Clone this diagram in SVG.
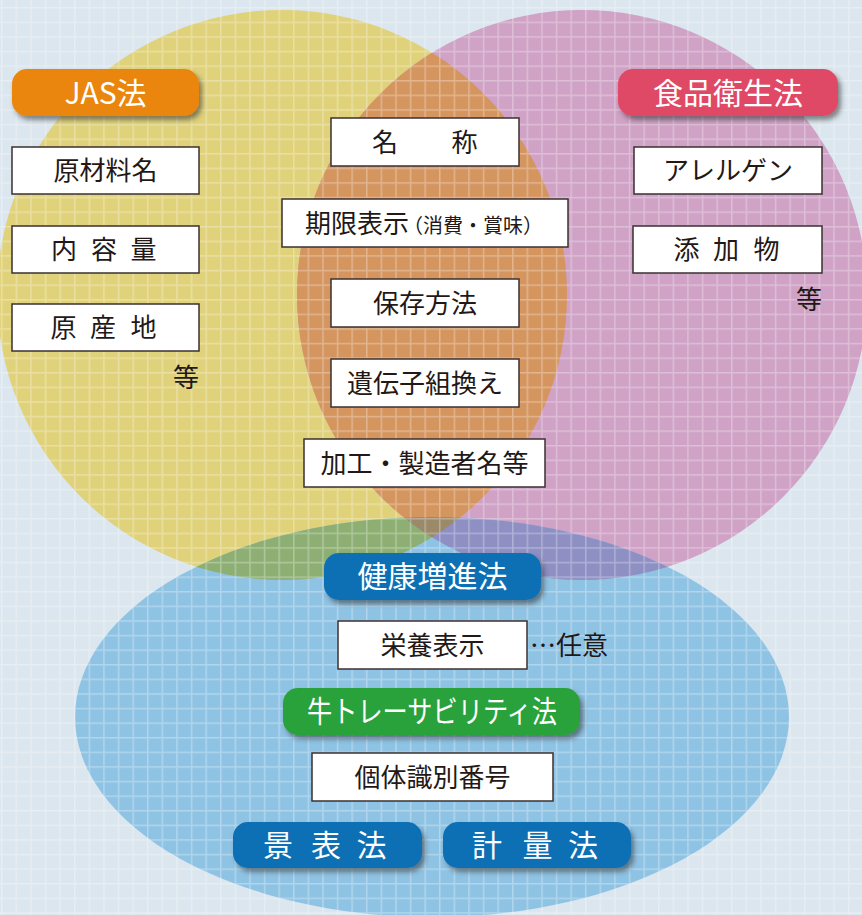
<svg xmlns="http://www.w3.org/2000/svg" width="862" height="915" viewBox="0 0 862 915">
<style>
.bx{fill:#fff;stroke:#3b3030;stroke-width:1.5}
.t{font-family:"Noto Sans CJK JP","Noto Sans",sans-serif;font-size:26px;fill:#231815;text-anchor:middle}
.bt{font-family:"Noto Sans CJK JP","Noto Sans",sans-serif;font-size:30px;fill:#fff;text-anchor:middle}
</style>
<defs>
<pattern id="grid" x="1" y="7" width="14.6" height="14.6" patternUnits="userSpaceOnUse">
<rect x="0" y="0" width="1.5" height="14.6" fill="#fff"/>
<rect x="0" y="0" width="14.6" height="1.5" fill="#fff"/>
</pattern>
<clipPath id="cy"><circle cx="282" cy="295" r="285"/></clipPath>
<clipPath id="cp"><circle cx="582" cy="295" r="285"/></clipPath>
<filter id="sh" x="-10%" y="-20%" width="130%" height="160%">
<feDropShadow dx="3" dy="4" stdDeviation="2.5" flood-color="#333" flood-opacity="0.55"/>
</filter>
</defs>
<g id="background">
<rect width="862" height="915" fill="#dbe6ee"/>
<circle cx="282" cy="295" r="285" fill="#e0d27b"/>
<circle cx="582" cy="295" r="285" fill="#cfa2c6"/>
<circle cx="582" cy="295" r="285" fill="#d4955f" clip-path="url(#cy)"/>
<ellipse cx="432" cy="717" rx="357" ry="200" fill="#8fc3e4"/>
<ellipse cx="432" cy="717" rx="357" ry="200" fill="#8daf73" clip-path="url(#cy)"/>
<ellipse cx="432" cy="717" rx="357" ry="200" fill="#8e8fc3" clip-path="url(#cp)"/>
<g clip-path="url(#cp)"><ellipse cx="432" cy="717" rx="357" ry="200" fill="#9b8a6a" clip-path="url(#cy)"/></g>
<rect width="862" height="915" fill="url(#grid)" opacity="0.3"/>
</g>
<g id="connectors"></g>
<g id="jas">
<rect x="12" y="69" width="187" height="47" rx="15" fill="#ea8510" filter="url(#sh)"/>
<text class="bt" x="105.5" y="103.5">JAS法</text>
</g>
<g id="shokuhin">
<rect x="618" y="69" width="220" height="47" rx="15" fill="#e04a65" filter="url(#sh)"/>
<text class="bt" x="728" y="103.5">食品衛生法</text>
</g>
<g id="genzairyo">
<rect class="bx" x="12" y="147" width="187" height="47"/>
<text class="t" x="105.5" y="180">原材料名</text>
</g>
<g id="naiyoryo">
<rect class="bx" x="12" y="226" width="187" height="47"/>
<text class="t" x="64 104 143.5" y="259">内容量</text>
</g>
<g id="gensanchi">
<rect class="bx" x="12" y="304" width="187" height="47"/>
<text class="t" x="63.5 103 143.5" y="337">原産地</text>
</g>
<g id="etc-left"><text class="t" x="186" y="387">等</text></g>
<g id="allergen">
<rect class="bx" x="634" y="147" width="188" height="47"/>
<text class="t" x="728" y="180">アレルゲン</text>
</g>
<g id="tenkabutsu">
<rect class="bx" x="633" y="226" width="189" height="47"/>
<text class="t" x="686.5 726 766.5" y="259">添加物</text>
</g>
<g id="etc-right"><text class="t" x="809" y="309">等</text></g>
<g id="meisho">
<rect class="bx" x="331" y="118" width="188" height="48"/>
<text class="t" x="385 464.5" y="151.5">名称</text>
</g>
<g id="kigen">
<rect class="bx" x="282" y="199" width="286" height="48"/>
<text class="t" x="305" y="232.5" style="text-anchor:start">期限表示<tspan font-size="20" dx="-6">（消費・賞味）</tspan></text>
</g>
<g id="hozon">
<rect class="bx" x="331" y="279" width="188" height="48"/>
<text class="t" x="425" y="312.5">保存方法</text>
</g>
<g id="idenshi">
<rect class="bx" x="331" y="359" width="188" height="48"/>
<text class="t" x="425" y="392.5">遺伝子組換え</text>
</g>
<g id="kakou">
<rect class="bx" x="304" y="439" width="241" height="48"/>
<text class="t" x="424.5" y="472.5">加工・製造者名等</text>
</g>
<g id="kenko">
<rect x="324" y="553" width="217" height="47" rx="15" fill="#0a6fb4" filter="url(#sh)"/>
<text class="bt" x="432.5" y="587">健康増進法</text>
</g>
<g id="eiyo">
<rect class="bx" x="338" y="621" width="189" height="48"/>
<text class="t" x="432.5" y="654.5">栄養表示</text>
</g>
<g id="nini"><text class="t" x="530" y="655" style="text-anchor:start">…任意</text></g>
<g id="ushi">
<rect x="283" y="688" width="297" height="47" rx="15" fill="#2aa23a" filter="url(#sh)"/>
<text class="bt" x="432" y="722" font-size="28" textLength="250" lengthAdjust="spacingAndGlyphs">牛トレーサビリティ法</text>
</g>
<g id="kotai">
<rect class="bx" x="312" y="753" width="241" height="48"/>
<text class="t" x="432.5" y="786.5">個体識別番号</text>
</g>
<g id="keihyo">
<rect x="233" y="822" width="189" height="46" rx="15" fill="#0a6fb4" filter="url(#sh)"/>
<text class="bt" x="278 326 371.5" y="855.5">景表法</text>
</g>
<g id="keiryo">
<rect x="443" y="822" width="188" height="46" rx="15" fill="#0a6fb4" filter="url(#sh)"/>
<text class="bt" x="487 537.5 583" y="855.5">計量法</text>
</g>
</svg>
